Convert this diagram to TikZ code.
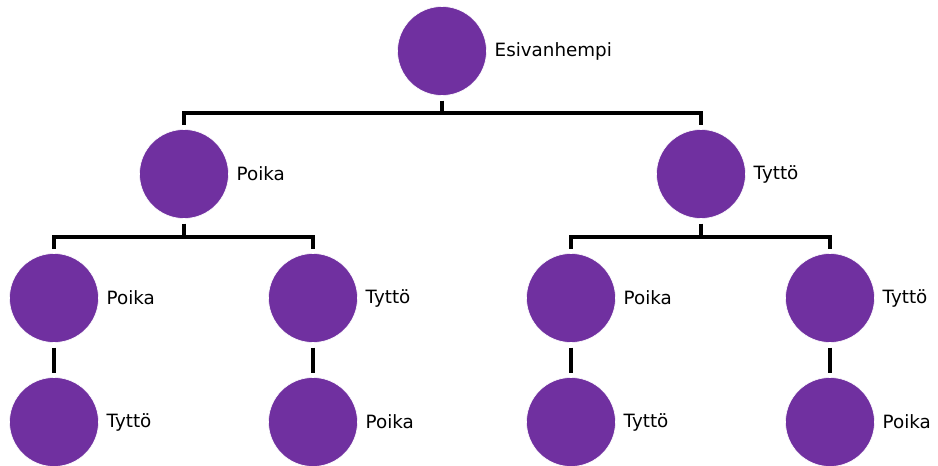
\documentclass[tikz,border=0pt]{standalone}
\usepackage{fontspec}
\setmainfont{DejaVu Sans}
\definecolor{circpurple}{HTML}{7030A0}
\begin{document}
\begin{tikzpicture}[x=1pt,y=-1pt,
  person/.style={circle,fill=circpurple,draw=white,line width=0.6pt,minimum size=89pt,inner sep=0pt,outer sep=5pt},
  lab/.style={anchor=west,inner sep=0pt,font=\fontsize{18.3}{20}\selectfont,text=black},
  conn/.style={draw=black,line width=4pt,line join=miter}]
\useasboundingbox (0,0) rectangle (938,466);
% nodes
\node[person] (root) at (442,51) {};
\node[person] (l2a) at (184,174) {};
\node[person] (l2b) at (701,174) {};
\node[person] (l3a) at (54,298) {};
\node[person] (l3b) at (313,298) {};
\node[person] (l3c) at (571,298) {};
\node[person] (l3d) at (830,298) {};
\node[person] (l4a) at (54,422) {};
\node[person] (l4b) at (313,422) {};
\node[person] (l4c) at (571,422) {};
\node[person] (l4d) at (830,422) {};
% labels
\node[lab] (troot) at ([xshift=3pt]root.east) {Esivanhempi};
\node[lab] (tl2a) at ([xshift=3pt]l2a.east) {Poika};
\node[lab] (tl2b) at ([xshift=3pt]l2b.east) {Tyttö};
\node[lab] (tl3a) at ([xshift=3pt]l3a.east) {Poika};
\node[lab] (tl3b) at ([xshift=3pt]l3b.east) {Tyttö};
\node[lab] (tl3c) at ([xshift=3pt]l3c.east) {Poika};
\node[lab] (tl3d) at ([xshift=3pt]l3d.east) {Tyttö};
\node[lab] (tl4a) at ([xshift=3pt]l4a.east) {Tyttö};
\node[lab] (tl4b) at ([xshift=3pt]l4b.east) {Poika};
\node[lab] (tl4c) at ([xshift=3pt]l4c.east) {Tyttö};
\node[lab] (tl4d) at ([xshift=3pt]l4d.east) {Poika};
% bar levels
\coordinate (bar1) at (0,112.5);
\coordinate (bar2) at (0,237);
% connectors
\draw[conn] (root) -- (root |- bar1);
\draw[conn] (l2a) |- (bar1 -| root) -| (l2b);
\draw[conn] (l2a) -- (l2a |- bar2);
\draw[conn] (l3a) |- (bar2 -| l2a) -| (l3b);
\draw[conn] (l2b) -- (l2b |- bar2);
\draw[conn] (l3c) |- (bar2 -| l2b) -| (l3d);
\draw[conn] (l3a) -- (l4a);
\draw[conn] (l3b) -- (l4b);
\draw[conn] (l3c) -- (l4c);
\draw[conn] (l3d) -- (l4d);
\end{tikzpicture}
\end{document}
